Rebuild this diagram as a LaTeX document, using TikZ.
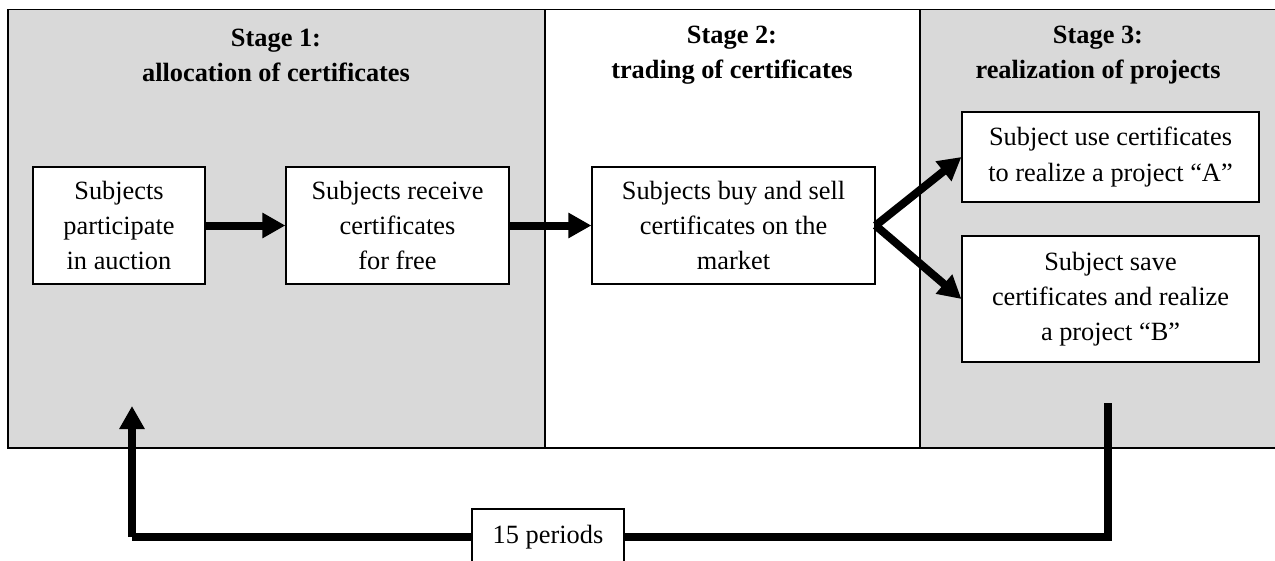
\documentclass[tikz,border=0pt]{standalone}
\usepackage{fontspec}
\setmainfont{Liberation Serif}
\usetikzlibrary{arrows.meta}

\begin{document}
\begin{tikzpicture}[x=0.02cm,y=-0.02cm]
        % Define styles
        \tikzset{
            stage/.style={draw=black, line width=0.8pt},
            heading/.style={align=center, font=\fontsize{15}{20}\selectfont\bfseries},
            box/.style={rectangle, draw, fill=white, line width=0.7pt, align=center, inner sep=0pt, font=\fontsize{15}{20}\selectfont},
            arrow/.style={-{Triangle[length=0.46cm,width=0.48cm]}, line width=0.16cm},
            loopline/.style={line width=0.16cm}
        }
        \clip (0,0) rectangle (1275,561);

        % Stages
        \draw[stage, fill=black!15] (8,9.5) rectangle (545,448);
        \draw[stage, fill=white] (545,9.5) rectangle (920,448);
        \draw[stage, fill=black!15] (920,9.5) rectangle (1290,448);
        \node[heading] (stage_node_1) at (276,55) {Stage 1:\\allocation of certificates};
        \node[heading] (stage_node_2) at (732,55) {Stage 2:\\trading of certificates};
        \node[heading] (stage_node_3) at (1098,55) {Stage 3:\\realization of projects};

        % Nodes
        \node[box, minimum width=3.44cm, minimum height=2.34cm] (box_node_1) at (119,225.5) {Subjects\\participate\\in auction};
        \node[box, minimum width=4.46cm, minimum height=2.34cm] (box_node_2) at (397.5,225.5) {Subjects receive\\certificates\\for free};
        \node[box, minimum width=5.66cm, minimum height=2.34cm] (box_node_3) at (733.5,225.5) {Subjects buy and sell\\certificates on the\\market};
        \node[box, minimum width=5.94cm, minimum height=1.8cm] (box_node_4) at (1110.5,157) {Subject use certificates\\to realize a project ``A''};
        \node[box, minimum width=5.94cm, minimum height=2.52cm] (box_node_5) at (1110.5,299) {Subject save\\certificates and realize\\a project ``B''};

        % Arrows
        \draw[arrow] (box_node_1) -- (box_node_2);
        \draw[arrow] (box_node_2) -- (box_node_3);
        \draw[arrow] (box_node_3.east) -- (box_node_4.west);
        \draw[arrow] (box_node_3.east) -- (box_node_5.west);

        % Repetition
        \coordinate (loop_start) at (1108,403);
        \coordinate (loop_end) at (132,406);
        \draw[loopline] (loop_start) -- (1108,537) -- (132,537);
        \draw[arrow] (132,537) -- (loop_end);
        \node[box, minimum width=3.04cm, minimum height=1.12cm] (periods_node) at (548,537) {15 periods};
    \end{tikzpicture}
\end{document}
